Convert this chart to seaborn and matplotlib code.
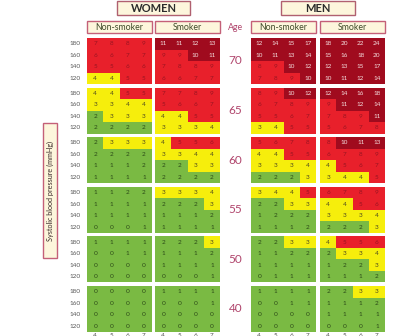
import numpy as np
import matplotlib
matplotlib.use("Agg")
import matplotlib.pyplot as plt
import seaborn as sns
from matplotlib.colors import ListedColormap
from matplotlib.patches import Rectangle

ages = [70, 65, 60, 55, 50, 40]
sbp = [180, 160, 140, 120]
chol = [4, 5, 6, 7]
groups = ["Non-smoker", "Smoker", "Non-smoker", "Smoker"]
sexes = ["WOMEN", "MEN"]

women_nonsmoker = [
    [[7, 8, 8, 9], [6, 6, 7, 7], [5, 5, 6, 6], [4, 4, 5, 5]],
    [[4, 4, 5, 5], [3, 3, 4, 4], [2, 3, 3, 3], [2, 2, 2, 2]],
    [[2, 3, 3, 3], [2, 2, 2, 2], [1, 1, 1, 2], [1, 1, 1, 1]],
    [[1, 1, 2, 2], [1, 1, 1, 1], [1, 1, 1, 1], [0, 0, 0, 1]],
    [[1, 1, 1, 1], [0, 0, 1, 1], [0, 0, 0, 0], [0, 0, 0, 0]],
    [[0, 0, 0, 0], [0, 0, 0, 0], [0, 0, 0, 0], [0, 0, 0, 0]],
]
women_smoker = [
    [[11, 11, 12, 13], [9, 9, 10, 11], [7, 8, 8, 9], [6, 6, 7, 7]],
    [[7, 7, 8, 9], [5, 6, 6, 7], [4, 4, 5, 5], [3, 3, 3, 4]],
    [[4, 5, 5, 6], [3, 3, 4, 4], [2, 2, 3, 3], [2, 2, 2, 2]],
    [[3, 3, 3, 4], [2, 2, 2, 3], [1, 1, 1, 2], [1, 1, 1, 1]],
    [[2, 2, 2, 3], [1, 1, 1, 2], [1, 1, 1, 1], [0, 0, 0, 1]],
    [[1, 1, 1, 1], [0, 0, 0, 1], [0, 0, 0, 0], [0, 0, 0, 0]],
]
men_nonsmoker = [
    [[12, 14, 15, 17], [10, 11, 13, 14], [8, 9, 10, 12], [7, 8, 9, 10]],
    [[8, 9, 10, 12], [6, 7, 8, 9], [5, 5, 6, 7], [3, 4, 5, 5]],
    [[5, 6, 7, 8], [4, 4, 5, 5], [3, 3, 3, 4], [2, 2, 2, 3]],
    [[3, 4, 4, 5], [2, 2, 3, 3], [1, 2, 2, 2], [1, 1, 1, 2]],
    [[2, 2, 3, 3], [1, 1, 2, 2], [1, 1, 1, 1], [0, 1, 1, 1]],
    [[1, 1, 1, 1], [0, 0, 1, 1], [0, 0, 0, 0], [0, 0, 0, 0]],
]
men_smoker = [
    [[18, 20, 22, 24], [15, 16, 18, 20], [12, 13, 15, 17], [10, 11, 12, 14]],
    [[12, 14, 16, 18], [9, 11, 12, 14], [7, 8, 9, 11], [5, 6, 7, 8]],
    [[8, 10, 11, 13], [6, 7, 8, 9], [4, 5, 6, 7], [3, 4, 4, 5]],
    [[6, 7, 8, 9], [4, 4, 5, 6], [3, 3, 3, 4], [2, 2, 2, 3]],
    [[4, 5, 5, 6], [2, 3, 3, 4], [1, 2, 2, 3], [1, 1, 1, 2]],
    [[2, 2, 3, 3], [1, 1, 1, 2], [1, 1, 1, 1], [0, 0, 0, 1]],
]
tables = [women_nonsmoker, women_smoker, men_nonsmoker, men_smoker]

GREEN, YELLOW, RED, DARKRED = "#7aba43", "#f6ee0c", "#e8202b", "#a00b1e"
cmap = ListedColormap([GREEN, YELLOW, RED, DARKRED])
text_cols = ["#2c4a18", "#4a4520", "#9a1522", "#f4dede"]

W, H = 411, 336
fig = plt.figure(figsize=(W / 100, H / 100), dpi=100)
fig.patch.set_facecolor("white")
plt.rcParams["font.family"] = ["Lato", "DejaVu Sans"]


def frect(x0, y0, x1, y1):
    return [x0 / W, 1 - y1 / H, (x1 - x0) / W, (y1 - y0) / H]


def fx(x):
    return x / W


def fy(y):
    return 1 - y / H


def box(x0, y0, x1, y1, ec="#c46078", fc="#fdf6dc", lw=1.0):
    fig.add_artist(Rectangle((fx(x0), fy(y1)), (x1 - x0) / W, (y1 - y0) / H,
                             transform=fig.transFigure, facecolor=fc,
                             edgecolor=ec, linewidth=lw))


col_x = [(87, 152), (155, 220), (251, 316), (320, 385)]
block_top0, pitch, bh = 38, 49.6, 46

for ci, table in enumerate(tables):
    x0, x1 = col_x[ci]
    for ai, age in enumerate(ages):
        y0 = block_top0 + ai * pitch
        ax = fig.add_axes(frect(x0, y0, x1, y0 + bh))
        vals = np.array(table[ai])
        cat = np.digitize(vals, [3, 5, 10])
        sns.heatmap(cat, ax=ax, cmap=cmap, vmin=-0.5, vmax=3.5, cbar=False,
                    annot=vals, fmt="d", annot_kws={"size": 4.6},
                    xticklabels=chol if ai == len(ages) - 1 else False,
                    yticklabels=sbp if ci == 0 else False, linewidths=0)
        flat = cat.ravel()
        for t, c in zip(ax.texts, flat):
            t.set_color(text_cols[c])
        ax.tick_params(axis="both", length=0, labelsize=4.6, labelcolor="#555555")
        ax.tick_params(axis="y", pad=4.5, rotation=0)
        ax.tick_params(axis="x", pad=0.6, rotation=0)
    # group header box
    box(x0, 21, x1, 33)
    fig.text(fx((x0 + x1) / 2), fy(27), groups[ci], ha="center", va="center",
             fontsize=6.3, color="#3f4a2a")

# Sex header boxes
box(117, 1, 190, 15, ec="#b06070", fc="#fdf6dc")
fig.text(fx(153.5), fy(8), "WOMEN", ha="center", va="center", fontsize=8,
         fontweight="bold", color="#2b2b2b")
box(281, 1, 355, 15, ec="#b06070", fc="#fdf6dc")
fig.text(fx(318), fy(8), "MEN", ha="center", va="center", fontsize=8,
         fontweight="bold", color="#2b2b2b")

AGECOL = "#b0456c"
fig.text(fx(235.5), fy(27), "Age", ha="center", va="center", fontsize=6.3,
         color=AGECOL)
for ai, age in enumerate(ages):
    yc = block_top0 + ai * pitch + bh / 2
    fig.text(fx(235.5), fy(yc), str(age), ha="center", va="center",
             fontsize=8.5, color=AGECOL)

# y label box
box(43, 123, 57, 258, ec="#c46078", fc="#fdf6dc")
fig.text(fx(50), fy(190.5), "Systolic blood pressure (mmHg)", rotation=90,
         ha="center", va="center", fontsize=5.2, color="#3a2a2a")

fig.savefig("out.png", dpi=100, facecolor="white")
